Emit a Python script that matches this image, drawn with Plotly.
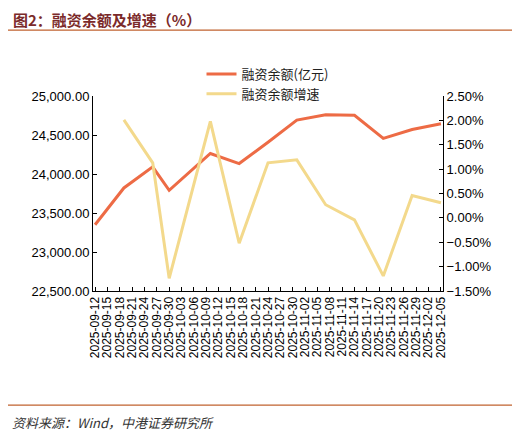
import plotly.graph_objects as go

# weekly observations
dates = ["2025-09-12", "2025-09-19", "2025-09-26", "2025-09-30", "2025-10-10",
         "2025-10-17", "2025-10-24", "2025-10-31", "2025-11-07", "2025-11-14",
         "2025-11-21", "2025-11-28", "2025-12-05"]
balance = [23349, 23821, 24092, 23791, 24263, 24134, 24408, 24691, 24760,
           24752, 24456, 24571, 24645]
growth = [None, 2.01, 1.13, -1.24, 1.98, -0.52, 1.13, 1.19, 0.27, -0.04,
          -1.19, 0.46, 0.31]

tick_dates = ["2025-09-12", "2025-09-15", "2025-09-18", "2025-09-21", "2025-09-24",
              "2025-09-27", "2025-09-30", "2025-10-03", "2025-10-06", "2025-10-09",
              "2025-10-12", "2025-10-15", "2025-10-18", "2025-10-21", "2025-10-24",
              "2025-10-27", "2025-10-30", "2025-11-02", "2025-11-05", "2025-11-08",
              "2025-11-11", "2025-11-14", "2025-11-17", "2025-11-20", "2025-11-23",
              "2025-11-26", "2025-11-29", "2025-12-02", "2025-12-05"]

ORANGE = "#ED6B45"
YELLOW = "#F3D98C"
DARKRED = "#7B2A2A"
BASE = "Liberation Sans, Noto Sans CJK SC, sans-serif"
CJK = "Noto Sans CJK SC, sans-serif"

fig = go.Figure()
fig.add_trace(go.Scatter(x=dates, y=balance, name="融资余额(亿元)", mode="lines",
                         line=dict(color=ORANGE, width=3)))
fig.add_trace(go.Scatter(x=dates, y=growth, name="融资余额增速", mode="lines",
                         line=dict(color=YELLOW, width=3), yaxis="y2"))

axis_common = dict(showline=True, linecolor="black", linewidth=1, showgrid=False,
                   zeroline=False, ticks="inside", ticklen=4, tickcolor="black",
                   tickfont=dict(family=BASE, size=13, color="black"))

# page body has an 8px margin, so the figure is a bit smaller than the window
fig.update_layout(
    width=512, height=426,
    margin=dict(l=85, r=77, t=88, b=143),
    paper_bgcolor="white", plot_bgcolor="white",
    xaxis=dict(type="date", range=["2025-09-11 12:00", "2025-12-05 12:00"],
               tickvals=tick_dates, ticktext=tick_dates, tickangle=-90,
               **{**axis_common, "tickfont": dict(family=BASE, size=12, color="black")}),
    yaxis=dict(range=[22500, 25000], dtick=500, tickformat=",.2f", **axis_common),
    yaxis2=dict(range=[-1.5, 2.5], dtick=0.5, tickformat=".2f", ticksuffix="%",
                overlaying="y", side="right", **axis_common),
    legend=dict(x=0.31, y=1.19, xanchor="left", yanchor="top", bgcolor="rgba(0,0,0,0)",
                font=dict(family=CJK, size=13, color="#222222"), tracegroupgap=2),
    showlegend=True,
)

# title, rules and source note
fig.add_annotation(text="<b>图2：融资余额及增速（%）</b>", xref="paper", yref="paper",
                   x=-0.235, y=1.392, xanchor="left", yanchor="middle", showarrow=False,
                   font=dict(family=CJK, size=15, color=DARKRED))
fig.add_shape(type="line", xref="paper", yref="paper", x0=-0.251, x1=1.206,
              y0=1.338, y1=1.338, line=dict(color="#C0622F", width=1.2))
fig.add_shape(type="line", xref="paper", yref="paper", x0=-0.251, x1=1.206,
              y0=-0.585, y1=-0.585, line=dict(color="#C0622F", width=1.2))
fig.add_annotation(text="<i>资料来源：Wind，中港证券研究所</i>", xref="paper", yref="paper",
                   x=-0.237, y=-0.672, xanchor="left", yanchor="middle", showarrow=False,
                   font=dict(family=CJK, size=13, color="#333333"))

fig.write_html("out.html")
